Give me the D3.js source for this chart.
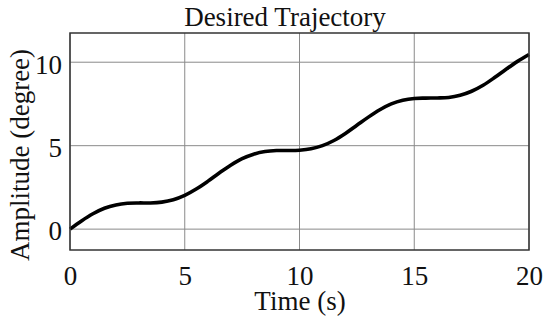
<!DOCTYPE html>
<html>
<head>
<meta charset="utf-8">
<script src="https://cdn.jsdelivr.net/npm/d3@7"></script>
<style>
  body { margin: 0; background: #fff; }
  svg text { font-family: "Liberation Serif", "Times New Roman", serif; fill: #111; }
</style>
</head>
<body>
<svg id="svg1"></svg>
<script>
    // Data (time in s, amplitude in degree)
    const time = [0, 0.5, 1, 1.5, 2, 2.5, 3, 3.5, 4, 4.5, 5, 5.5, 6, 6.5, 7, 7.5, 8, 8.5, 9, 9.5,
                  10, 10.5, 11, 11.5, 12, 12.5, 13, 13.5, 14, 14.5, 15, 15.5, 16, 16.5, 17, 17.5, 18, 18.5, 19, 19.5, 20];
    const amplitude = [0, 0.49, 0.92, 1.25, 1.45, 1.55, 1.57, 1.57, 1.62, 1.76, 2.02, 2.40, 2.86, 3.36, 3.83, 4.22, 4.49, 4.65, 4.71, 4.71,
                       4.73, 4.81, 5.00, 5.31, 5.73, 6.22, 6.71, 7.15, 7.50, 7.72, 7.83, 7.85, 7.86, 7.89, 8.02, 8.26, 8.62, 9.08, 9.58, 10.05, 10.46];
    const xTicks = [0, 5, 10, 15, 20];
    const yTicks = [0, 5, 10];

    const data = time.map((t, i) => ({ t: t, a: amplitude[i] }));

    const W = 550, H = 321;
    const margin = { top: 33, right: 21, bottom: 71, left: 70 },
          width = W - margin.left - margin.right,
          height = H - margin.top - margin.bottom;

    const root = d3.select("#svg1").attr("width", W).attr("height", H);
    const svg = root.append("g")
      .attr("transform", `translate(${margin.left},${margin.top})`);

    const x = d3.scaleLinear().domain([0, 20]).range([0, width]);
    const y = d3.scaleLinear().domain([-1.25, 11.75]).range([height, 0]);

    // grid
    svg.append("g")
      .selectAll("line")
      .data(xTicks)
      .join("line")
      .attr("x1", d => x(d)).attr("x2", d => x(d))
      .attr("y1", 0).attr("y2", height)
      .attr("stroke", "#8a8a8a").attr("stroke-width", 1);
    svg.append("g")
      .selectAll("line")
      .data(yTicks)
      .join("line")
      .attr("x1", 0).attr("x2", width)
      .attr("y1", d => y(d)).attr("y2", d => y(d))
      .attr("stroke", "#8a8a8a").attr("stroke-width", 1);

    // axes (labels only, ticks drawn by grid)
    const xAxis = svg.append("g")
      .attr("transform", `translate(0,${height})`)
      .call(d3.axisBottom(x).tickValues(xTicks).tickSize(0).tickPadding(16));
    const yAxis = svg.append("g")
      .call(d3.axisLeft(y).tickValues(yTicks).tickSize(0).tickPadding(8));
    [xAxis, yAxis].forEach(g => {
      g.select(".domain").remove();
      g.selectAll("text").style("font-size", "27px").attr("fill", "#111");
    });
    yAxis.selectAll("text").attr("dy", "0.4em");

    // line
    const line = d3.line()
      .x(d => x(d.t))
      .y(d => y(d.a))
      .curve(d3.curveCatmullRom);
    svg.append("path")
      .datum(data)
      .attr("d", line)
      .attr("fill", "none")
      .attr("stroke", "#000")
      .attr("stroke-width", 3.6);

    // frame
    svg.append("rect")
      .attr("x", 0).attr("y", 0)
      .attr("width", width).attr("height", height)
      .attr("fill", "none").attr("stroke", "#333").attr("stroke-width", 1.5);

    // title and labels
    root.append("text")
      .attr("x", 285).attr("y", 26)
      .attr("text-anchor", "middle")
      .style("font-size", "27px")
      .text("Desired Trajectory");
    root.append("text")
      .attr("x", 300).attr("y", 310)
      .attr("text-anchor", "middle")
      .style("font-size", "27px")
      .text("Time (s)");
    root.append("text")
      .attr("transform", "translate(29,155) rotate(-90)")
      .attr("text-anchor", "middle")
      .style("font-size", "27px")
      .text("Amplitude (degree)");
</script>
</body>
</html>
